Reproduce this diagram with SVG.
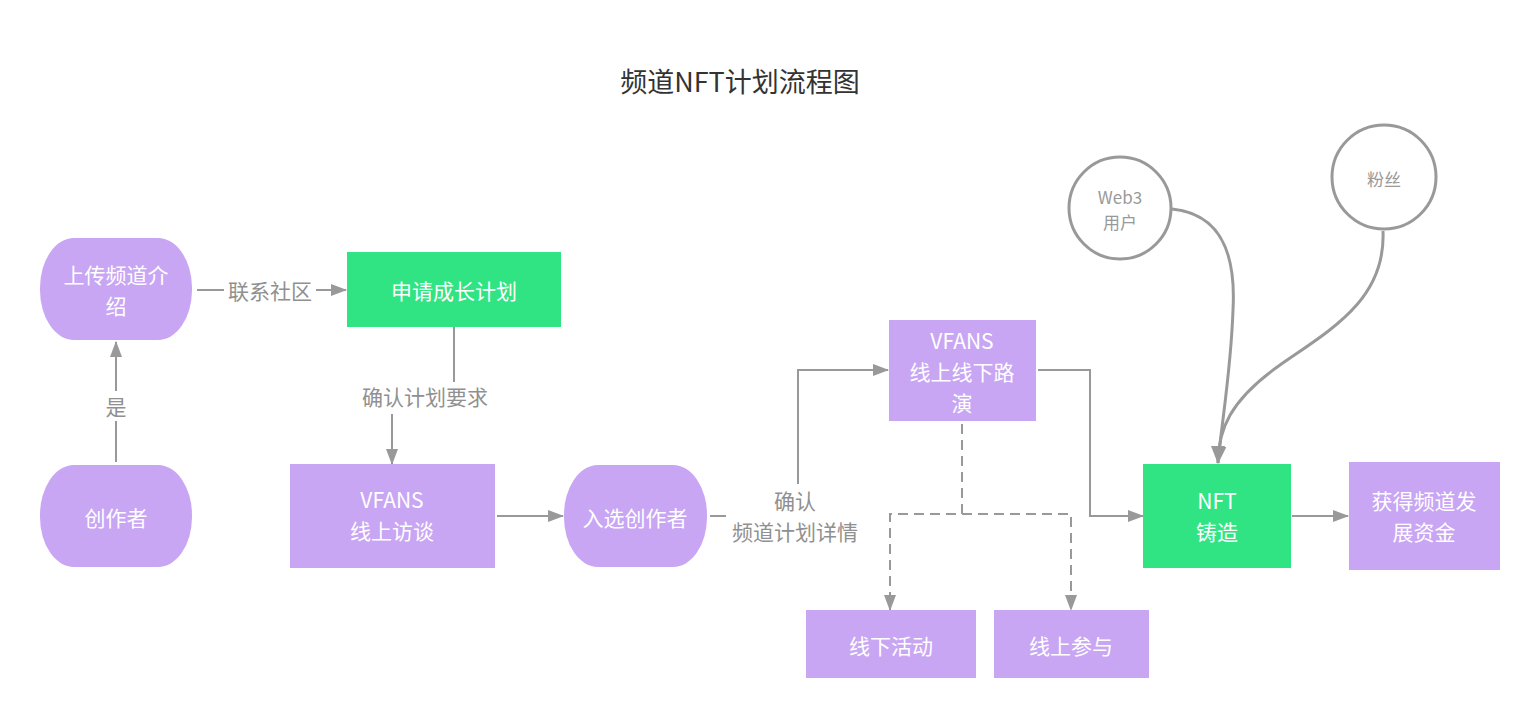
<svg xmlns="http://www.w3.org/2000/svg" width="1539" height="717" viewBox="0 0 1539 717">
<defs>
<style>
.t{font-family:"Noto Sans CJK SC","Noto Sans",sans-serif;}
.nt{font-size:21px;fill:#ffffff;text-anchor:middle;dominant-baseline:central;}
.lt{font-size:21px;fill:#909090;text-anchor:middle;dominant-baseline:central;}
.ct{font-size:17px;fill:#999999;text-anchor:middle;dominant-baseline:central;}
.p{fill:#c8a6f4;}
.g{fill:#31e483;}
.ln{fill:none;stroke:#999999;stroke-width:2;}
.ds{fill:none;stroke:#999999;stroke-width:2;stroke-dasharray:10 6;}
.cv{fill:none;stroke:#999999;stroke-width:3;}
.circ{fill:#ffffff;stroke:#999999;stroke-width:3;}
.bg{fill:#ffffff;}
</style>
<marker id="ah" viewBox="0 0 16 12" refX="15" refY="6" markerWidth="16" markerHeight="12" markerUnits="userSpaceOnUse" orient="auto">
<path d="M0,0 L16,6 L0,12 z" fill="#999999"/>
</marker>
<marker id="ahc" viewBox="0 0 18 14" refX="17" refY="7" markerWidth="18" markerHeight="14" markerUnits="userSpaceOnUse" orient="auto">
<path d="M0,0 L18,7 L0,14 z" fill="#999999"/>
</marker>
</defs>
<rect width="1539" height="717" fill="#ffffff"/>
<text class="t" x="740" y="80" font-size="27" fill="#333333" text-anchor="middle" dominant-baseline="central">频道NFT计划流程图</text>

<g id="connectors">
<path class="ln" d="M116,462 V342" marker-end="url(#ah)"/>
<rect class="bg" x="103" y="391" width="26" height="30"/>
<text class="t lt" x="116" y="406">是</text>

<path class="ln" d="M197,290 H346" marker-end="url(#ah)"/>
<rect class="bg" x="224" y="275" width="92" height="30"/>
<text class="t lt" x="270" y="290">联系社区</text>

<path class="ln" d="M454,327 V396 H392 V464" marker-end="url(#ah)"/>
<rect class="bg" x="355" y="382" width="140" height="32"/>
<text class="t lt" x="425" y="396">确认计划要求</text>

<path class="ln" d="M497,516 H563" marker-end="url(#ah)"/>

<path class="ln" d="M710,516 H798 V370 H888" marker-end="url(#ah)"/>
<rect class="bg" x="726" y="484" width="138" height="62"/>
<text class="t lt" x="795" y="500"><tspan x="795" y="500">确认</tspan><tspan x="795" y="531">频道计划详情</tspan></text>

<path class="ln" d="M1038,370 H1090 V516 H1143" marker-end="url(#ah)"/>

<path class="ds" d="M962,424 V514 H890 V610" marker-end="url(#ah)"/>
<path class="ds" d="M962,514 H1071 V610" marker-end="url(#ah)"/>

<path class="ln" d="M1292,516 H1348" marker-end="url(#ah)"/>

<path class="cv" d="M1172,209 C1222,214 1236,255 1233,310 C1231,370 1222,420 1218,463" marker-end="url(#ahc)"/>
<path class="cv" d="M1383,231 C1386,300 1330,330 1280,365 C1230,400 1218,430 1218,463" marker-end="url(#ahc)"/>
</g>

<g id="n1">
<rect class="p" x="40" y="238" width="152" height="102" rx="34" ry="50"/>
<text class="t nt" x="116" y="274"><tspan x="116" y="274">上传频道介</tspan><tspan x="116" y="305">绍</tspan></text>
</g>
<g id="n2">
<rect class="p" x="40" y="465" width="152" height="102" rx="34" ry="50"/>
<text class="t nt" x="116" y="517">创作者</text>
</g>
<g id="n3">
<rect class="g" x="347" y="252" width="214" height="75"/>
<text class="t nt" x="454" y="290">申请成长计划</text>
</g>
<g id="n4">
<rect class="p" x="290" y="464" width="205" height="104"/>
<text class="t nt" x="392" y="499"><tspan x="392" y="499">VFANS</tspan><tspan x="392" y="530">线上访谈</tspan></text>
</g>
<g id="n5">
<rect class="p" x="564" y="465" width="143" height="102" rx="34" ry="50"/>
<text class="t nt" x="635" y="517">入选创作者</text>
</g>
<g id="n6">
<rect class="p" x="889" y="320" width="147" height="101"/>
<text class="t nt" x="962" y="340"><tspan x="962" y="340">VFANS</tspan><tspan x="962" y="371">线上线下路</tspan><tspan x="962" y="402">演</tspan></text>
</g>
<g id="n7">
<rect class="p" x="806" y="610" width="170" height="68"/>
<text class="t nt" x="891" y="645">线下活动</text>
</g>
<g id="n8">
<rect class="p" x="994" y="610" width="155" height="68"/>
<text class="t nt" x="1071" y="645">线上参与</text>
</g>
<g id="n9">
<rect class="g" x="1143" y="464" width="148" height="104"/>
<text class="t nt" x="1217" y="500"><tspan x="1217" y="500">NFT</tspan><tspan x="1217" y="531">铸造</tspan></text>
</g>
<g id="n10">
<rect class="p" x="1349" y="462" width="151" height="108"/>
<text class="t nt" x="1424" y="500"><tspan x="1424" y="500">获得频道发</tspan><tspan x="1424" y="531">展资金</tspan></text>
</g>
<g id="n11">
<circle class="circ" cx="1120" cy="208" r="51"/>
<text class="t ct" x="1120" y="196"><tspan x="1120" y="196">Web3</tspan><tspan x="1120" y="221">用户</tspan></text>
</g>
<g id="n12">
<circle class="circ" cx="1384" cy="177" r="52"/>
<text class="t ct" x="1384" y="178" font-size="17">粉丝</text>
</g>
</svg>
